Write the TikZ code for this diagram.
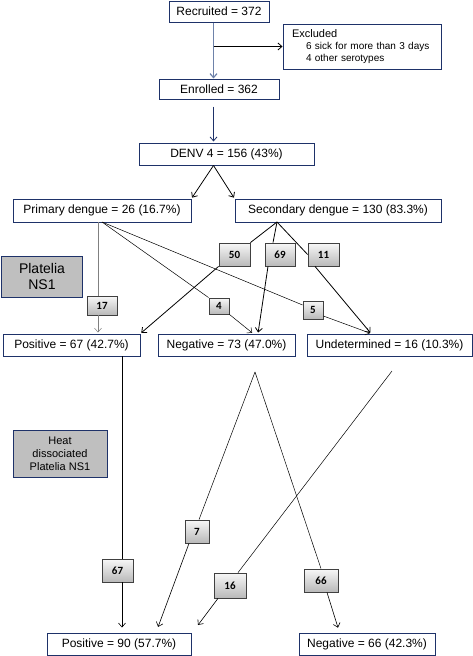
\documentclass[tikz,border=0pt]{standalone}
\usepackage{fontspec}
\setmainfont{Liberation Sans}
\newfontfamily\numfont{Carlito}
\usepackage{tikz}
\usetikzlibrary{arrows.meta}

\begin{document}
\begin{tikzpicture}[x=1pt,y=-1pt,
  box/.style={draw=boxColor,line width=1pt,fill=white,inner sep=0pt,
    minimum height=22pt,font=\fontsize{12}{14}\selectfont},
  numbox/.style={draw=black!75,line width=0.8pt,top color=gray!6,bottom color=gray!55,
    inner sep=0pt,minimum height=23pt,font=\numfont\bfseries\fontsize{11}{13}\selectfont},
  method/.style={draw=boxColor,line width=1pt,fill=gray!50,inner sep=0pt,align=center},
  link/.style={draw=black,line width=0.8pt},
  thinlink/.style={draw=black,line width=0.5pt},
  flow/.style={link,-{Straight Barb[length=4pt,width=7pt]}}]
\definecolor{boxColor}{RGB}{30,50,105}
\definecolor{arrowGray}{RGB}{110,130,170}

\path[use as bounding box] (0,0) rectangle (473,656);

% enrolment
\node[box,minimum width=100pt,minimum height=21pt] (rec) at (219,11.5) {Recruited = 372};
\node[box,minimum width=158pt,minimum height=45pt,text width=140pt,inner xsep=9pt,
  align=left,font=\fontsize{10}{12}\selectfont] (excl) at (362,46.5)
  {{\fontsize{11}{12}\selectfont Excluded}\\
   \hspace*{14pt}6 sick for more than 3 days\\
   \hspace*{14pt}4 other serotypes};
\node[box,minimum width=120pt,minimum height=20pt] (enr) at (219,89) {Enrolled = 362};
\node[box,minimum width=175pt] (denv) at (226.5,154) {DENV 4 = 156 (43\%)};
\node[box,minimum width=178pt,minimum height=23pt] (prim) at (102,210.5) {Primary dengue = 26 (16.7\%)};
\node[box,minimum width=206pt,minimum height=23pt] (sec) at (338,210.5) {Secondary dengue = 130 (83.3\%)};

% first test
\node[method,minimum width=81pt,minimum height=41pt,font=\fontsize{14}{16}\selectfont] (ns1) at (42,276.5) {Platelia\\NS1};
\node[box,minimum width=137pt] (pos1) at (71.5,345) {Positive = 67 (42.7\%)};
\node[box,minimum width=137pt] (neg1) at (226.5,345) {Negative = 73 (47.0\%)};
\node[box,minimum width=165pt] (und) at (389.5,345) {Undetermined = 16 (10.3\%)};

\node[numbox,minimum width=31pt] (n50) at (234.5,254.5) {50};
\node[numbox,minimum width=30pt] (n69) at (280,254.5) {69};
\node[numbox,minimum width=31pt] (n11) at (323.5,254.5) {11};
\node[numbox,minimum width=30pt,minimum height=19pt] (n17) at (102,305.5) {17};
\node[numbox,minimum width=20pt,minimum height=16pt] (n4) at (219,306) {4};
\node[numbox,minimum width=20pt,minimum height=18pt] (n5) at (313,310) {5};

% second test
\node[method,minimum width=94pt,minimum height=47pt,font=\fontsize{11}{13}\selectfont] (heat) at (60,453.5) {Heat\\dissociated\\Platelia NS1};
\node[box,minimum width=144pt] (pos2) at (119,644) {Positive = 90 (57.7\%)};
\node[box,minimum width=136pt] (neg2) at (367,644) {Negative = 66 (42.3\%)};

\node[numbox,minimum width=31pt] (n67) at (117.5,570.5) {67};
\node[numbox,minimum width=24pt] (n7) at (197,531.5) {7};
\node[numbox,minimum width=32pt,minimum height=25pt] (n16) at (230,585.5) {16};
\node[numbox,minimum width=34pt] (n66) at (321,580.5) {66};

% connectors
\coordinate (spine) at (213.5,0);
\draw[flow,draw=arrowGray,line width=1.2pt] (spine |- rec.south) -- (spine |- enr.north);
\draw[flow] (spine |- excl.west) -- (excl.west);
\draw[flow,draw=boxColor,shorten <=7pt,shorten >=1pt] (spine |- enr.south) -- (spine |- denv.north);
\draw[flow,shorten >=1pt] (spine |- denv.south) -- (prim.north east);
\draw[flow,shorten >=1pt] (spine |- denv.south) -- (sec.north west);

\coordinate (p17) at (98,222);
\coordinate (pfan) at (102,222);
\draw[thinlink,draw=gray] (p17) -- (p17 |- n17.north);
\draw[flow,draw=gray,line width=0.5pt,shorten >=1pt] (p17 |- n17.south) -- (p17 |- pos1.north);
\draw[thinlink] (pfan) -- (n4.north west);
\draw[flow,line width=0.5pt,shorten >=1pt] (n4.south east) -- ([xshift=26.5pt]neg1.north);
\draw[thinlink] (pfan) -- ([yshift=5pt]n5.west);
\draw[flow,line width=0.5pt,shorten >=1pt] ([yshift=-6pt]n5.east) -- ([xshift=-18.5pt]und.north);

\coordinate (sfan) at (277,222);
\draw[link] (sfan) -- (n50.north east);
\draw[link] (sfan) -- ([xshift=-7pt]n69.north);
\draw[link] (sfan) -- (n11.west);
\draw[flow,shorten >=1pt] (n50.south west) -- (pos1.north east);
\draw[flow,shorten >=1pt] ([xshift=-12pt]n69.south) -- ([xshift=31.5pt]neg1.north);
\draw[flow,shorten >=1pt] ([xshift=-8.5pt]n11.south) -- ([xshift=-18.5pt]und.north);

\coordinate (a67) at (122,356);
\coordinate (apex) at (255,372);
\coordinate (bstart) at (392,371);
\coordinate (tip16) at (198,625);
\draw[thinlink] (a67) -- (a67 |- n67.north);
\draw[flow,line width=0.6pt,shorten >=5pt] (a67 |- n67.south) -- (a67 |- pos2.north);
\draw[thinlink] (apex) -- ([xshift=2pt]n7.north);
\draw[flow,line width=0.6pt,shorten >=6pt] ([xshift=-8pt]n7.south) -- ([xshift=37pt]pos2.north);
\draw[thinlink] (apex) -- (n66.north);
\draw[flow,line width=0.6pt,shorten >=5pt] ([xshift=6pt]n66.south) -- ([xshift=-27.5pt]neg2.north);
\draw[thinlink] (bstart) -- ([xshift=8pt]n16.north);
\draw[flow,line width=0.6pt] ([xshift=-12pt]n16.south) -- (tip16);
\end{tikzpicture}
\end{document}
